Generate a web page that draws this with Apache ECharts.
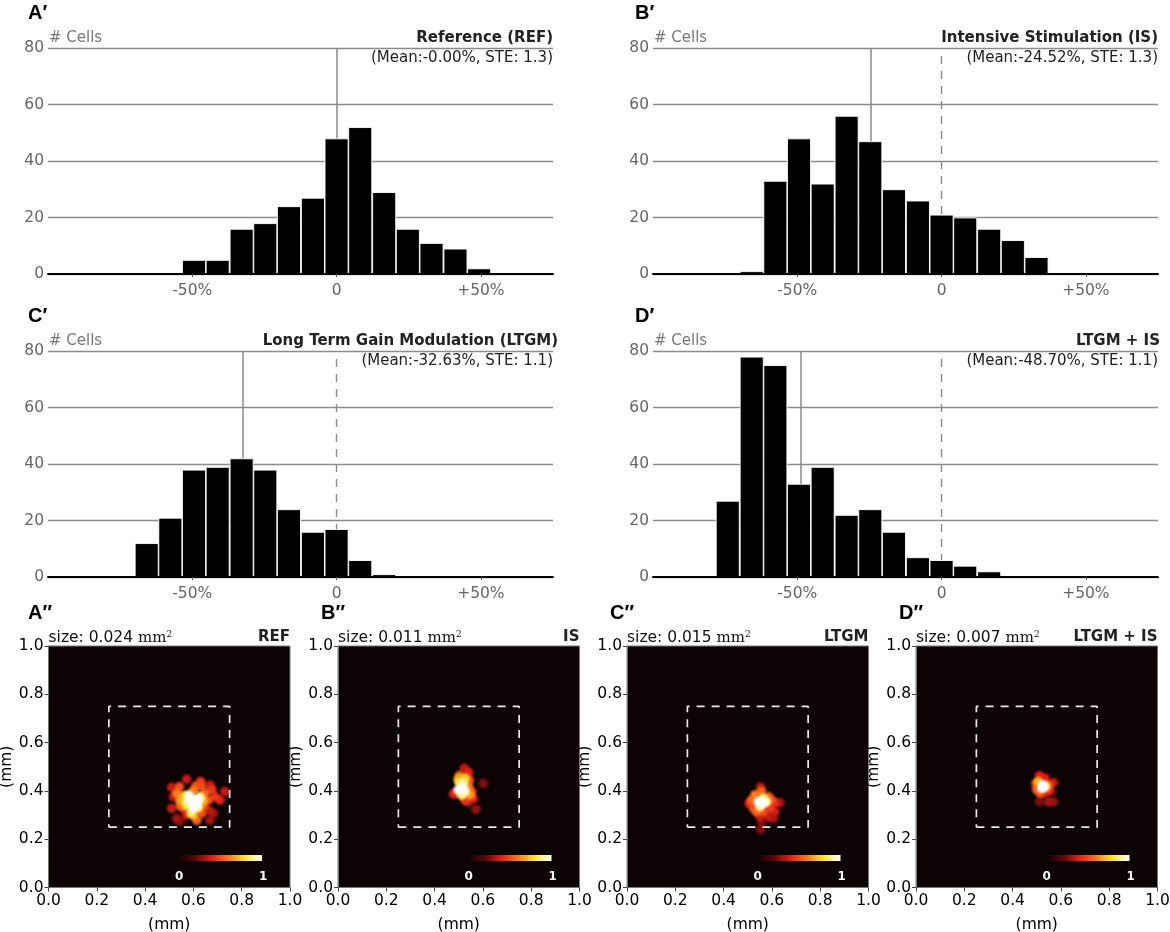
<!DOCTYPE html>
<html>
<head>
<meta charset="utf-8">
<style>html,body{margin:0;padding:0;background:#fff}#chart{width:1170px;height:932px}</style>
<script src="https://cdn.jsdelivr.net/npm/echarts@6/dist/echarts.min.js"></script>
</head>
<body>
<div id="chart"></div>
<script>
// histogram data
const binCenters = [-74.1, -65.8, -57.6, -49.4, -41.2, -32.9, -24.7, -16.5, -8.2, 0, 8.2, 16.5, 24.7, 32.9, 41.2, 49.4];
const countsRef   = [0, 0, 0, 5, 5, 16, 18, 24, 27, 48, 52, 29, 16, 11, 9, 2];
const countsIS    = [0, 1, 33, 48, 32, 56, 47, 30, 26, 21, 20, 16, 12, 6, 0, 0];
const countsLTGM  = [0, 12, 21, 38, 39, 42, 38, 24, 16, 17, 6, 1, 0, 0, 0, 0];
const countsBoth  = [27, 78, 75, 33, 39, 22, 24, 16, 7, 6, 4, 2, 0, 0, 0, 0];
const meanValues  = [0, -24.52, -32.63, -48.7];
const xTicks = [-50, 0, 50];

const histTitles = ['Reference (REF)', 'Intensive Stimulation (IS)', 'Long Term Gain Modulation (LTGM)', 'LTGM + IS'];
const histNotes = ['(Mean:-0.00%, STE: 1.3)', '(Mean:-24.52%, STE: 1.3)', '(Mean:-32.63%, STE: 1.1)', '(Mean:-48.70%, STE: 1.1)'];
const histLabels = ['A\u2032', 'B\u2032', 'C\u2032', 'D\u2032'];
const mapTitles = ['REF', 'IS', 'LTGM', 'LTGM + IS'];
const mapSizes = ['0.024', '0.011', '0.015', '0.007'];
const mapLabels = ['A\u2033', 'B\u2033', 'C\u2033', 'D\u2033'];
const roiBox = [[0.25, 0.25], [0.75, 0.25], [0.75, 0.75], [0.25, 0.75], [0.25, 0.25]];

// activity map hot spots: x (mm), y (mm), activity
const spotsRef = [
  [0.607, 0.362, 1], [0.579, 0.383, 0.95], [0.600, 0.328, 1], [0.627, 0.376, 0.9], [0.614, 0.342, 1],
  [0.586, 0.348, 0.9], [0.565, 0.362, 0.75], [0.545, 0.362, 0.65], [0.531, 0.390, 0.6], [0.542, 0.417, 0.5],
  [0.572, 0.448, 0.35], [0.630, 0.438, 0.45], [0.634, 0.417, 0.5], [0.669, 0.424, 0.35], [0.731, 0.397, 0.35],
  [0.710, 0.362, 0.4], [0.689, 0.376, 0.45], [0.662, 0.362, 0.5], [0.648, 0.390, 0.55], [0.510, 0.415, 0.35],
  [0.510, 0.328, 0.35], [0.531, 0.286, 0.3], [0.545, 0.273, 0.25], [0.614, 0.279, 0.55], [0.600, 0.300, 0.7],
  [0.634, 0.307, 0.5], [0.669, 0.279, 0.3], [0.662, 0.321, 0.35], [0.683, 0.307, 0.3], [0.572, 0.300, 0.4],
  [0.558, 0.328, 0.45], [0.517, 0.376, 0.35], [0.676, 0.404, 0.45],
  [0.590, 0.370, 1], [0.600, 0.345, 1], [0.620, 0.360, 1], [0.580, 0.360, 0.95], [0.620, 0.330, 0.85],
  [0.570, 0.340, 0.8], [0.590, 0.310, 0.85], [0.640, 0.360, 0.7], [0.560, 0.380, 0.7], [0.600, 0.400, 0.6],
  [0.545, 0.340, 0.55], [0.640, 0.340, 0.55], [0.610, 0.420, 0.5]
];
const spotsIS = [
  [0.523, 0.493, 0.35], [0.540, 0.476, 0.4], [0.502, 0.462, 0.6], [0.544, 0.445, 0.5], [0.526, 0.452, 0.75],
  [0.505, 0.431, 0.85], [0.516, 0.411, 1], [0.498, 0.404, 1], [0.526, 0.397, 0.95], [0.512, 0.383, 0.85],
  [0.540, 0.418, 0.6], [0.553, 0.397, 0.5], [0.547, 0.383, 0.65], [0.484, 0.390, 0.4], [0.4775, 0.386, 0.3],
  [0.560, 0.369, 0.4], [0.526, 0.362, 0.45], [0.540, 0.355, 0.35], [0.602, 0.431, 0.25], [0.571, 0.324, 0.28],
  [0.498, 0.445, 0.7], [0.519, 0.431, 0.9]
];
const spotsLTGM = [
  [0.553, 0.415, 0.35], [0.557, 0.397, 0.55], [0.530, 0.383, 0.6], [0.516, 0.362, 0.55], [0.506, 0.349, 0.4],
  [0.564, 0.369, 0.9], [0.544, 0.355, 1], [0.564, 0.349, 1], [0.578, 0.355, 0.9], [0.551, 0.335, 0.9],
  [0.585, 0.376, 0.55], [0.599, 0.362, 0.5], [0.613, 0.349, 0.4], [0.633, 0.351, 0.3], [0.523, 0.328, 0.5],
  [0.537, 0.314, 0.55], [0.564, 0.314, 0.5], [0.592, 0.328, 0.45], [0.613, 0.314, 0.35], [0.585, 0.293, 0.35],
  [0.606, 0.286, 0.3], [0.551, 0.293, 0.35], [0.557, 0.266, 0.25], [0.553, 0.241, 0.25]
];
const spotsBoth = [
  [0.511, 0.462, 0.4], [0.534, 0.452, 0.4], [0.569, 0.434, 0.35], [0.497, 0.431, 0.5], [0.507, 0.438, 0.7],
  [0.525, 0.424, 1], [0.521, 0.411, 1], [0.534, 0.417, 0.95], [0.500, 0.406, 0.55], [0.548, 0.424, 0.55],
  [0.548, 0.404, 0.45], [0.514, 0.390, 0.5], [0.534, 0.390, 0.35], [0.511, 0.355, 0.25], [0.548, 0.355, 0.3],
  [0.569, 0.355, 0.28], [0.562, 0.397, 0.25]
];

const allCounts = [countsRef, countsIS, countsLTGM, countsBoth];
const allSpots = [spotsRef, spotsIS, spotsLTGM, spotsBoth];

const hotRamp = ['#0c0404', '#5a0808', '#e81e18', '#ff7a18', '#ffe928', '#ffffff'];
const sansFont = '"DejaVu Sans"';
const tickGrey = '#666';

const chart = echarts.init(document.getElementById('chart'));

const grids = [], xAxes = [], yAxes = [], series = [], titles = [], visualMaps = [], bars = [];

function text(str, left, top, size, weight, color, family, right) {
  const item = {
    text: str, top: top, padding: 0,
    textStyle: { fontSize: size, fontWeight: weight, color: color, fontFamily: family || sansFont }
  };
  if (right !== undefined) { item.right = right; } else { item.left = left; }
  titles.push(item);
}

// histograms
const histLeft = [48, 653, 48, 653];
const histTop = [48, 48, 351, 351];
const histWidth = 505, histHeight = 226;

allCounts.forEach(function (counts, i) {
  grids.push({ left: histLeft[i], top: histTop[i], width: histWidth, height: histHeight, outerBoundsMode: 'none' });
  xAxes.push({
    type: 'value', gridIndex: grids.length - 1, min: -100, max: 75, z: 6,
    splitLine: { show: false },
    axisLine: { onZero: false, lineStyle: { color: '#000', width: 2 } },
    axisTick: { customValues: xTicks, length: 3, inside: false, lineStyle: { color: '#555' } },
    axisLabel: {
      customValues: xTicks, color: tickGrey, fontSize: 15.5, fontFamily: sansFont, margin: 9,
      formatter: function (v) { return v === 0 ? '0' : (v > 0 ? '+' + v + '%' : v + '%'); }
    }
  });
  yAxes.push({
    type: 'value', gridIndex: grids.length - 1, min: 0, max: 80, interval: 20,
    axisLine: { show: false }, axisTick: { show: false },
    axisLabel: { color: tickGrey, fontSize: 15.5, fontFamily: sansFont, margin: 4 },
    splitLine: { lineStyle: { color: '#8c8c8c', width: 1.4 } }
  });
  const lines = [{ xAxis: meanValues[i], lineStyle: { type: 'solid', color: '#8a8a8a', width: 1.5 } }];
  if (i > 0) lines.push({ xAxis: 0, lineStyle: { type: [8, 7], color: '#8a8a8a', width: 1.4 } });
  series.push({
    type: 'bar', xAxisIndex: xAxes.length - 1, yAxisIndex: yAxes.length - 1, z: 3, silent: true,
    barWidth: 24,
    itemStyle: { color: '#000', borderColor: '#fff', borderWidth: 0.9 },
    data: binCenters.map(function (c, k) { return [c, counts[k]]; }).filter(function (d) { return d[1] > 0; }),
    markLine: { silent: true, symbol: 'none', z: 1, animation: false, label: { show: false }, data: lines }
  });
  const right = 1170 - histLeft[i] - histWidth;
  text(histLabels[i], i % 2 ? histLeft[i] - 18 : histLeft[i] - 20, histTop[i] - 45, 20, 'bold', '#000', '"Liberation Sans"');
  text('# Cells', histLeft[i] + 1, histTop[i] - 17, 15, 'normal', '#777');
  text(histTitles[i], 0, histTop[i] - 17, 15, 'bold', '#222', sansFont, i === 2 ? right - 5 : (i === 3 ? right - 2 : right));
  text(histNotes[i], 0, histTop[i] + 3, 15, 'normal', '#222', sansFont, right);
});

// activity maps
const mapLeft = [48.5, 338, 627, 916];
const mapTop = 646, mapSide = 241.5;

allSpots.forEach(function (spots, i) {
  grids.push({
    left: mapLeft[i], top: mapTop, width: mapSide, height: mapSide, show: true, outerBoundsMode: 'none',
    backgroundColor: hotRamp[0], borderColor: '#777', borderWidth: 1
  });
  const axisBase = {
    type: 'value', gridIndex: grids.length - 1, min: 0, max: 1, interval: 0.2,
    name: '(mm)', nameLocation: 'middle',
    nameTextStyle: { fontSize: 15.5, fontFamily: sansFont, color: '#000' },
    splitLine: { show: false },
    axisLine: { onZero: false, lineStyle: { color: '#777' } },
    axisTick: { length: 4, lineStyle: { color: '#444' } },
    axisLabel: {
      color: '#000', fontSize: 15.5, fontFamily: sansFont, margin: 5,
      showMinLabel: true, showMaxLabel: true,
      formatter: function (v) { return v.toFixed(1); }
    }
  };
  xAxes.push(Object.assign({}, axisBase, { nameGap: 29 }));
  yAxes.push(Object.assign({}, axisBase, { nameGap: 32 }));
  const sorted = spots.slice().sort(function (a, b) { return a[2] - b[2]; });
  series.push({
    type: 'custom', xAxisIndex: xAxes.length - 1, yAxisIndex: yAxes.length - 1, z: 2, silent: true,
    clip: true,
    encode: { x: 0, y: 1 },
    data: sorted,
    renderItem: function (params, api) {
      const c = api.coord([api.value(0), api.value(1)]);
      const d = api.size([0.054, 0.054]);
      const color = api.visual('color');
      return {
        type: 'circle',
        shape: { cx: c[0], cy: c[1], r: d[0] / 2 },
        style: {
          fill: new echarts.graphic.RadialGradient(0.5, 0.5, 0.5, [
            { offset: 0, color: color },
            { offset: 0.4, color: color },
            { offset: 1, color: echarts.color.modifyAlpha(color, 0) }
          ])
        }
      };
    }
  });
  visualMaps.push({
    type: 'continuous', show: false, seriesIndex: series.length - 1, dimension: 2, min: 0, max: 1,
    inRange: { color: hotRamp }
  });
  series.push({
    type: 'line', xAxisIndex: xAxes.length - 1, yAxisIndex: yAxes.length - 1, z: 4, silent: true,
    showSymbol: false, data: roiBox,
    lineStyle: { color: '#e8e8e8', width: 1.7, type: [8, 7] }
  });
  // colour scale key, the visualMap's own bar has rounded ends
  bars.push({
    type: 'rect', left: mapLeft[i] + 130.5, top: 855, z: 10, silent: true,
    shape: { width: 83, height: 6 },
    style: {
      fill: new echarts.graphic.LinearGradient(0, 0, 1, 0, hotRamp.map(function (c, k) {
        return { offset: k / (hotRamp.length - 1), color: c };
      }))
    }
  });
  text(mapLabels[i], i === 0 ? 28 : mapLeft[i] - 17, 603, 20, 'bold', '#000', '"Liberation Sans"');
  titles.push({
    text: '{a|size: ' + mapSizes[i] + ' }{b|mm}{c|2}', left: mapLeft[i], top: 630, padding: 0,
    textStyle: {
      rich: {
        a: { fontSize: 15.5, fontWeight: 'normal', fontFamily: sansFont, color: '#111' },
        b: { fontSize: 15, fontWeight: 'normal', fontFamily: '"DejaVu Serif"', color: '#111' },
        c: { fontSize: 9, fontWeight: 'normal', fontFamily: '"DejaVu Serif"', color: '#111', verticalAlign: 'top' }
      }
    }
  });
  text(mapTitles[i], 0, 630, 15, 'bold', '#222', sansFont, 1170 - mapLeft[i] - mapSide);
  text('0', mapLeft[i] + 126.5, 871, 12, 'bold', '#fff');
  text('1', mapLeft[i] + 210.5, 871, 12, 'bold', '#fff');
});

chart.setOption({
  animation: false,
  backgroundColor: '#fff',
  title: titles,
  grid: grids,
  xAxis: xAxes,
  yAxis: yAxes,
  visualMap: visualMaps,
  graphic: bars,
  series: series
});
</script>
</body>
</html>
